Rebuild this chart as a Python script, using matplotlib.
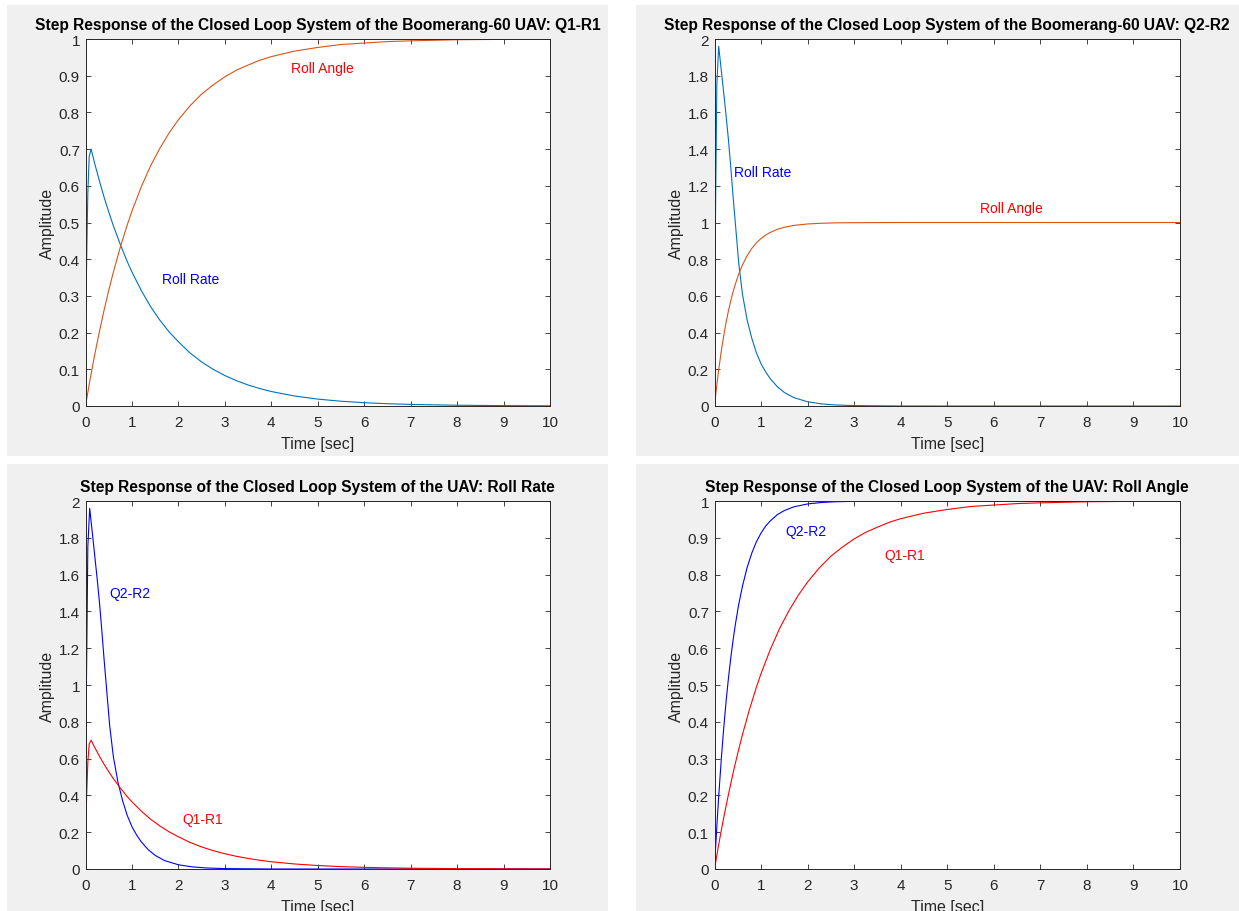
import numpy as np
import matplotlib
matplotlib.use('Agg')
import matplotlib.pyplot as plt
from matplotlib.patches import Rectangle

plt.rcParams['font.family'] = ['Liberation Sans', 'DejaVu Sans']

# ---- data ----
t_q1 = [0, 0.02, 0.05, 0.08, 0.12, 0.2, 0.3, 0.4, 0.5, 0.6, 0.75, 0.9, 1.0,
        1.2, 1.4, 1.6, 1.8, 2.0, 2.25, 2.5, 2.75, 3.0, 3.25, 3.5, 3.75, 4.0,
        4.5, 5.0, 5.5, 6.0, 6.5, 7.0, 8.0, 9.0, 10.0]
rate_q1 = [0, 0.36, 0.58, 0.68, 0.70, 0.66, 0.613, 0.569, 0.529, 0.491,
           0.44, 0.393, 0.365, 0.315, 0.271, 0.234, 0.202, 0.175, 0.1445,
           0.120, 0.0998, 0.083, 0.0689, 0.0573, 0.0476, 0.0395, 0.0273,
           0.0188, 0.013, 0.009, 0.0062, 0.0043, 0.0021, 0.001, 0.0005]
angle_q1 = [0, 0.015, 0.037, 0.059, 0.087, 0.141, 0.203, 0.261, 0.315,
            0.365, 0.433, 0.494, 0.531, 0.597, 0.654, 0.702, 0.744, 0.780,
            0.818, 0.850, 0.875, 0.897, 0.915, 0.929, 0.942, 0.952, 0.967,
            0.977, 0.985, 0.989, 0.993, 0.995, 0.998, 0.999, 1.0]

t_q2 = [0, 0.02, 0.05, 0.09, 0.15, 0.2, 0.25, 0.3, 0.35, 0.4, 0.45, 0.52,
        0.6, 0.7, 0.8, 0.9, 1.0, 1.1, 1.2, 1.35, 1.5, 1.7, 2.0, 2.3, 2.6,
        3.0, 4.0, 5.0, 6.0, 7.0, 8.0, 9.0, 10.0]
rate_q2 = [0, 1.0, 1.75, 1.96, 1.82, 1.70, 1.58, 1.45, 1.30, 1.14, 0.99,
           0.78, 0.61, 0.47, 0.37, 0.29, 0.23, 0.185, 0.148, 0.105, 0.074,
           0.046, 0.023, 0.0115, 0.0057, 0.0022, 0.0001, 0, 0, 0, 0, 0, 0]
angle_q2 = [0, 0.048, 0.115, 0.197, 0.306, 0.386, 0.457, 0.519, 0.574,
            0.623, 0.666, 0.719, 0.768, 0.819, 0.858, 0.889, 0.913, 0.932,
            0.946, 0.963, 0.974, 0.984, 0.992, 0.996, 0.998, 0.999, 1.0,
            1.0, 1.0, 1.0, 1.0, 1.0, 1.0]

xticks = list(range(0, 11))

W, H = 1239, 912
C_RATE = '#0072BD'
C_ANGLE = '#D95319'
INK = '#262626'


def px_axes(fig, l, t, r, b):
    return fig.add_axes([l / W, 1 - b / H, (r - l) / W, (b - t) / H])


def style(ax, ymax, ystep, title):
    ax.set_xlim(0, 10)
    ax.set_ylim(0, ymax)
    ax.set_xticks(xticks)
    yt = np.round(np.arange(0, ymax + 1e-9, ystep), 2)
    ax.set_yticks(yt)
    ax.set_yticklabels([f'{v:g}' for v in yt])
    ax.tick_params(direction='in', top=True, right=True, length=3.5,
                   width=0.6, colors=INK, labelsize=11)
    ax.tick_params(axis='x', pad=6.5)
    ax.tick_params(axis='y', pad=4)
    for s in ax.spines.values():
        s.set_color(INK)
        s.set_linewidth(0.7)
    ax.set_xlabel('Time [sec]', fontsize=11.5, color=INK, labelpad=5)
    ax.set_ylabel('Amplitude', fontsize=11.5, color=INK, labelpad=3)
    ax.set_title(title, fontsize=11.2, fontweight='bold', color='black', pad=7)


fig = plt.figure(figsize=(W / 100, H / 100), dpi=100)
fig.patch.set_facecolor('white')

# grey MATLAB figure panels
for (l, t, r, b) in [(7, 6, 608, 457), (636, 6, 1239, 457),
                     (7, 465, 608, 912), (636, 465, 1239, 912)]:
    fig.patches.append(Rectangle((l / W, 1 - b / H), (r - l) / W, (b - t) / H,
                                 transform=fig.transFigure,
                                 facecolor='#F0F0F0', edgecolor='none', zorder=-10))

# Q1-R1
ax1 = px_axes(fig, 85.5, 40, 550, 407)
ax1.plot(t_q1, rate_q1, color=C_RATE, lw=0.8)
ax1.plot(t_q1, angle_q1, color=C_ANGLE, lw=0.8)
ax1.text(4.42, 0.92, 'Roll Angle', color='red', fontsize=10, va='center')
ax1.text(1.64, 0.345, 'Roll Rate', color='blue', fontsize=10, va='center')
style(ax1, 1, 0.1, 'Step Response of the Closed Loop System of the Boomerang-60 UAV: Q1-R1')

# Q2-R2
ax2 = px_axes(fig, 714.5, 40, 1180, 407)
ax2.plot(t_q2, rate_q2, color=C_RATE, lw=0.8)
ax2.plot(t_q2, angle_q2, color=C_ANGLE, lw=0.8)
ax2.text(0.42, 1.275, 'Roll Rate', color='blue', fontsize=10, va='center')
ax2.text(5.7, 1.08, 'Roll Angle', color='red', fontsize=10, va='center')
style(ax2, 2, 0.2, 'Step Response of the Closed Loop System of the Boomerang-60 UAV: Q2-R2')

# roll rate comparison
ax3 = px_axes(fig, 85.5, 502, 550, 870)
ax3.plot(t_q2, rate_q2, color='blue', lw=0.8)
ax3.plot(t_q1, rate_q1, color='red', lw=0.8)
ax3.text(0.52, 1.5, 'Q2-R2', color='blue', fontsize=10, va='center')
ax3.text(2.09, 0.27, 'Q1-R1', color='red', fontsize=10, va='center')
style(ax3, 2, 0.2, 'Step Response of the Closed Loop System of the UAV: Roll Rate')

# roll angle comparison
ax4 = px_axes(fig, 714.5, 502, 1180, 870)
ax4.plot(t_q2, angle_q2, color='blue', lw=0.8)
ax4.plot(t_q1, angle_q1, color='red', lw=0.8)
ax4.text(1.52, 0.918, 'Q2-R2', color='blue', fontsize=10, va='center')
ax4.text(3.65, 0.853, 'Q1-R1', color='red', fontsize=10, va='center')
style(ax4, 1, 0.1, 'Step Response of the Closed Loop System of the UAV: Roll Angle')

fig.savefig('out.png', dpi=100)
